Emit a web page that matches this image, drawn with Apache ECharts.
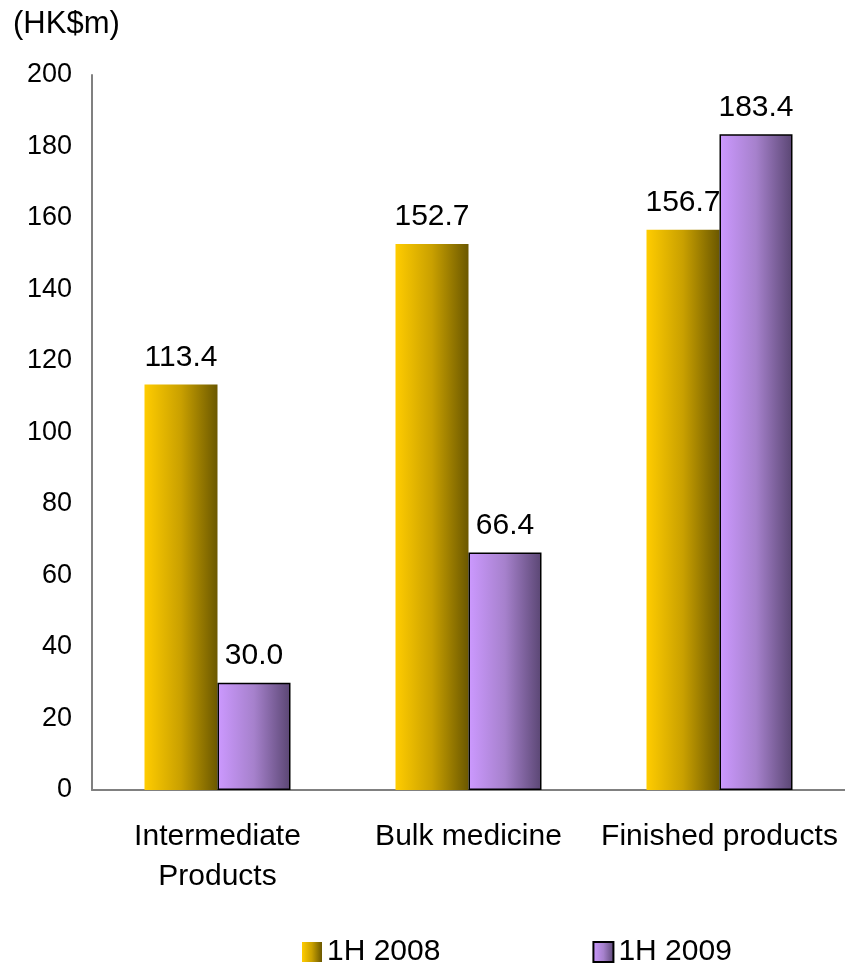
<!DOCTYPE html>
<html>
<head>
<meta charset="utf-8">
<script src="https://cdn.jsdelivr.net/npm/echarts@6/dist/echarts.min.js"></script>
<style>
  html, body { margin: 0; padding: 0; background: #fff; }
  #chart { width: 845px; height: 965px; }
</style>
</head>
<body>
<div id="chart"></div>
<script>
// categories and values
var categories = ["Intermediate\nProducts", "Bulk medicine", "Finished products"];
var seriesNames = ["1H 2008", "1H 2009"];
var values2008 = [113.4, 152.7, 156.7];
var values2009 = [30.0, 66.4, 183.4];
var yTicks = [0, 20, 40, 60, 80, 100, 120, 140, 160, 180, 200];

var FONT = "Liberation Sans, Arial, sans-serif";

function grad(c0, c1, c2) {
  return new echarts.graphic.LinearGradient(0, 0, 1, 0, [
    { offset: 0, color: c0 },
    { offset: 0.5, color: c1 },
    { offset: 1, color: c2 }
  ]);
}

var myChart = echarts.init(document.getElementById("chart"));
var option = {
  animation: false,
  backgroundColor: "#fff",
  title: {
    text: "(HK$m)",
    left: 8,
    top: 4,
    textStyle: { fontFamily: FONT, fontSize: 31, fontWeight: "normal", color: "#000" }
  },
  legend: {
    left: 297,
    top: 932,
    icon: "rect",
    itemWidth: 20,
    itemHeight: 20,
    itemGap: 152,
    textStyle: { fontFamily: FONT, fontSize: 30, color: "#000" },
    data: seriesNames
  },
  grid: { left: 92, right: 0, top: 75, bottom: 175 },
  xAxis: {
    type: "category",
    data: categories,
    axisLine: { lineStyle: { color: "#808080", width: 2 } },
    axisTick: { show: false },
    axisLabel: {
      interval: 0,
      margin: 27,
      fontFamily: FONT,
      fontSize: 30,
      lineHeight: 40,
      color: "#000"
    }
  },
  yAxis: {
    type: "value",
    min: yTicks[0],
    max: yTicks[yTicks.length - 1],
    interval: yTicks[1] - yTicks[0],
    splitLine: { show: false },
    axisLine: { show: true, lineStyle: { color: "#808080", width: 2 } },
    axisTick: { show: false },
    axisLabel: {
      margin: 20,
      fontFamily: FONT,
      fontSize: 27,
      color: "#000",
      padding: [4, 0, 0, 0]
    }
  },
  series: [
    {
      name: seriesNames[0],
      type: "bar",
      data: values2008,
      barWidth: 73,
      barGap: "0%",
      itemStyle: { color: grad("#ffcc00", "#c9a000", "#6b5800") },
      label: {
        show: true,
        position: "top",
        distance: 12,
        formatter: function (p) { return p.value.toFixed(1); },
        fontFamily: FONT,
        fontSize: 30,
        color: "#000"
      }
    },
    {
      name: seriesNames[1],
      type: "bar",
      data: values2009,
      barWidth: 73,
      barGap: "0%",
      itemStyle: {
        color: grad("#cc99ff", "#a681cc", "#5a4673"),
        borderColor: "#000",
        borderWidth: 1.5
      },
      label: {
        show: true,
        position: "top",
        distance: 12,
        formatter: function (p) { return p.value.toFixed(1); },
        fontFamily: FONT,
        fontSize: 30,
        color: "#000"
      }
    }
  ]
};
myChart.setOption(option);
</script>
</body>
</html>
